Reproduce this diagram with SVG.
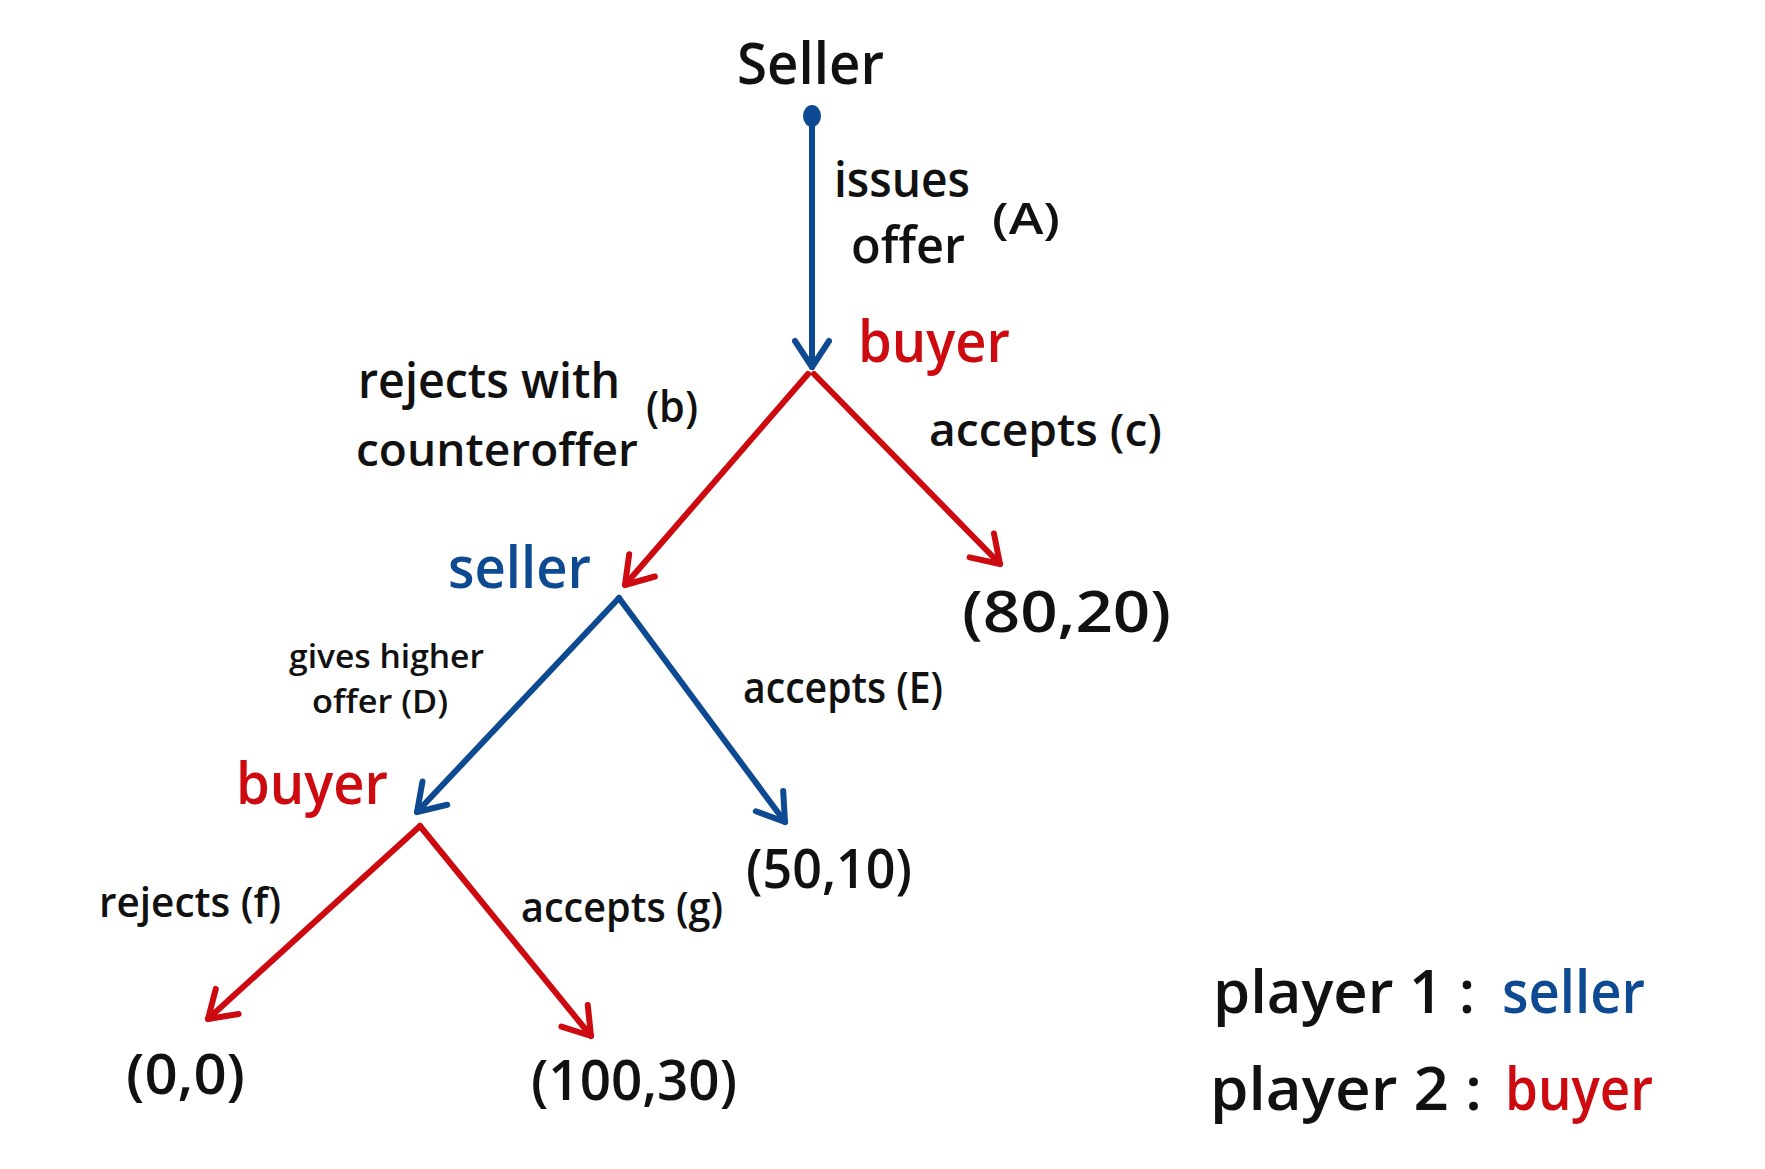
<svg xmlns="http://www.w3.org/2000/svg" width="1765" height="1169" viewBox="0 0 1765 1169">
<style>
.t{font-family:"Open Sans","Liberation Sans",sans-serif;font-weight:600;fill:#111}
.b{fill:#0e4a92}
.r{fill:#cc0a10}
.lb{stroke:#0e4a92;stroke-width:6;fill:none;stroke-linecap:round}
.lr{stroke:#cc0a10;stroke-width:6;fill:none;stroke-linecap:round}
</style>
<defs>
<marker id="ab" markerUnits="userSpaceOnUse" markerWidth="60" markerHeight="60" refX="0" refY="0" orient="auto" overflow="visible">
<path d="M -26 -17 L 0 0 L -26 17" fill="none" stroke="#0e4a92" stroke-width="6" stroke-linecap="round" stroke-linejoin="round"/>
</marker>
<marker id="ar" markerUnits="userSpaceOnUse" markerWidth="60" markerHeight="60" refX="0" refY="0" orient="auto" overflow="visible">
<path d="M -26 -17 L 0 0 L -26 17" fill="none" stroke="#cc0a10" stroke-width="6" stroke-linecap="round" stroke-linejoin="round"/>
</marker>
</defs>
<rect width="1765" height="1169" fill="#fff"/>
<g id="connectors">
<line class="lb" x1="812" y1="118" x2="812" y2="367" marker-end="url(#ab)"/>
<line class="lr" x1="808" y1="374" x2="625" y2="585" marker-end="url(#ar)"/>
<line class="lr" x1="814" y1="374" x2="1000" y2="564" marker-end="url(#ar)"/>
<line class="lb" x1="619" y1="598" x2="417" y2="812" marker-end="url(#ab)"/>
<line class="lb" x1="619" y1="598" x2="785" y2="822" marker-end="url(#ab)"/>
<line class="lr" x1="420" y1="826" x2="208" y2="1019" marker-end="url(#ar)"/>
<line class="lr" x1="420" y1="826" x2="591" y2="1036" marker-end="url(#ar)"/>
</g>
<g id="edge-labels">
<text class="t" x="834" y="197" font-size="48" textLength="136" lengthAdjust="spacingAndGlyphs">issues</text>
<text class="t" x="851" y="263" font-size="50" textLength="114" lengthAdjust="spacingAndGlyphs">offer</text>
<text class="t" x="992" y="234" font-size="44" textLength="68" lengthAdjust="spacingAndGlyphs">(A)</text>
<text class="t" x="358" y="398" font-size="48" textLength="262" lengthAdjust="spacingAndGlyphs">rejects with</text>
<text class="t" x="356" y="466" font-size="46" textLength="282" lengthAdjust="spacingAndGlyphs">counteroffer</text>
<text class="t" x="646" y="422" font-size="44" textLength="52" lengthAdjust="spacingAndGlyphs">(b)</text>
<text class="t" x="929" y="446" font-size="46" textLength="233" lengthAdjust="spacingAndGlyphs">accepts (c)</text>
<text class="t" x="289" y="668" font-size="32" textLength="195" lengthAdjust="spacingAndGlyphs">gives higher</text>
<text class="t" x="312" y="713" font-size="32" textLength="136" lengthAdjust="spacingAndGlyphs">offer (D)</text>
<text class="t" x="743" y="703" font-size="44" textLength="200" lengthAdjust="spacingAndGlyphs">accepts (E)</text>
<text class="t" x="99" y="917" font-size="42" textLength="182" lengthAdjust="spacingAndGlyphs">rejects (f)</text>
<text class="t" x="521" y="922" font-size="42" textLength="202" lengthAdjust="spacingAndGlyphs">accepts (g)</text>
</g>
<g id="node-root">
<ellipse cx="812" cy="116" rx="9" ry="11" fill="#0e4a92"/>
<text class="t" x="737" y="84" font-size="58" textLength="147" lengthAdjust="spacingAndGlyphs">Seller</text>
</g>
<g id="node-buyer1">
<text class="t r" x="858" y="362" font-size="58" textLength="152" lengthAdjust="spacingAndGlyphs">buyer</text>
</g>
<g id="node-seller2">
<text class="t b" x="448" y="588" font-size="58" textLength="143" lengthAdjust="spacingAndGlyphs">seller</text>
</g>
<g id="node-buyer2">
<text class="t r" x="236" y="804" font-size="58" textLength="152" lengthAdjust="spacingAndGlyphs">buyer</text>
</g>
<g id="payoff-c">
<text class="t" x="962" y="632" font-size="58" textLength="209" lengthAdjust="spacingAndGlyphs">(80,20)</text>
</g>
<g id="payoff-e">
<text class="t" x="746" y="888" font-size="54" textLength="166" lengthAdjust="spacingAndGlyphs">(50,10)</text>
</g>
<g id="payoff-f">
<text class="t" x="126" y="1094" font-size="56" textLength="119" lengthAdjust="spacingAndGlyphs">(0,0)</text>
</g>
<g id="payoff-g">
<text class="t" x="531" y="1100" font-size="56" textLength="206" lengthAdjust="spacingAndGlyphs">(100,30)</text>
</g>
<g id="legend">
<text class="t" x="1213" y="1013" font-size="60" textLength="262" lengthAdjust="spacingAndGlyphs">player 1 :</text>
<text class="t b" x="1502" y="1013" font-size="60" textLength="143" lengthAdjust="spacingAndGlyphs">seller</text>
<text class="t" x="1210" y="1110" font-size="60" textLength="272" lengthAdjust="spacingAndGlyphs">player 2 :</text>
<text class="t r" x="1505" y="1110" font-size="60" textLength="148" lengthAdjust="spacingAndGlyphs">buyer</text>
</g>
</svg>
